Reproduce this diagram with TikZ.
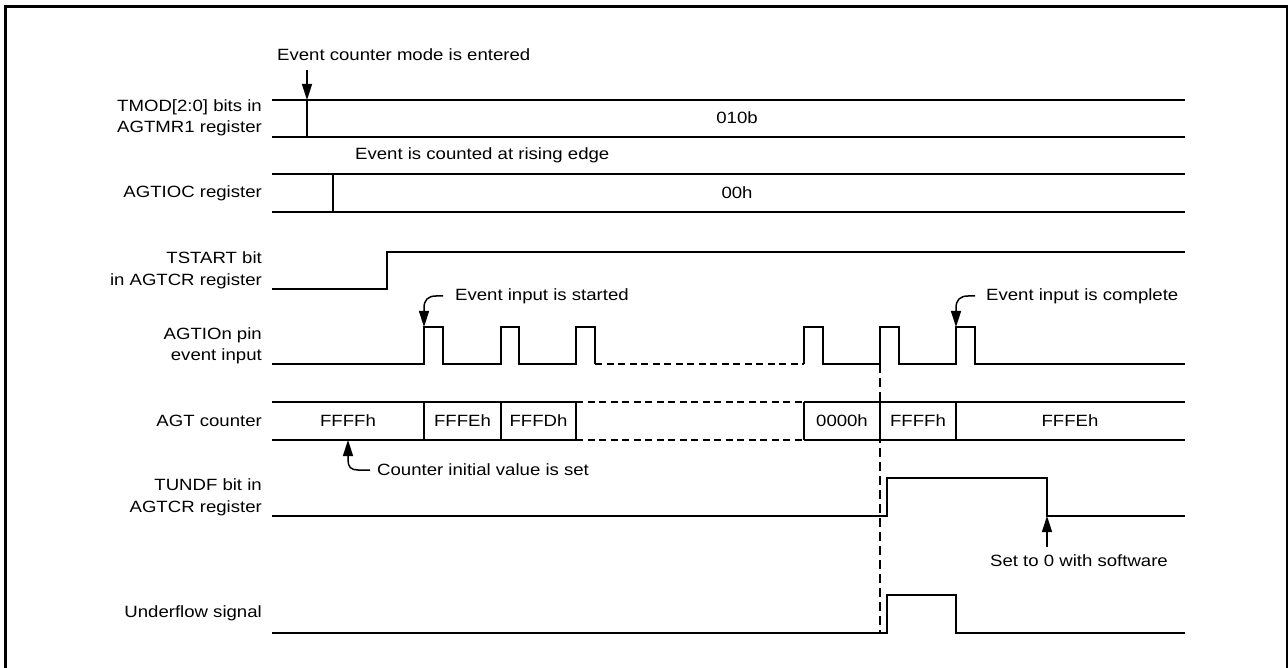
\documentclass[tikz,border=0pt]{standalone}
\usepackage{fontspec}
\setmainfont{Liberation Sans}[FakeStretch=1.14]
\usetikzlibrary{arrows.meta}
\begin{document}
\begin{tikzpicture}[x=1pt,y=-1pt,
  wave/.style={line width=1.5pt,line join=miter},
  dwave/.style={line width=1.8pt,dash pattern=on 7pt off 4.5pt},
  guide/.style={line width=1.2pt,dash pattern=on 9pt off 5pt},
  lbl/.style={font=\fontsize{16.3}{21.5}\selectfont,align=right,anchor=east,inner sep=0pt},
  txt/.style={font=\fontsize{16.3}{21.5}\selectfont,inner sep=0pt},
  note/.style={font=\fontsize{16.3}{21.5}\selectfont,inner sep=0pt,anchor=west},
  tip/.style={line width=1.5pt,-{Triangle[length=16pt,width=10pt]}}]
\useasboundingbox (0,0) rectangle (1288,668);
\clip (0,0) rectangle (1288,668);
% frame
\draw[line width=3pt] (5.5,670) -- (5.5,6.5) -- (1287.5,6.5) -- (1287.5,670);

% signal labels
\node[lbl] (l1) at (262,118) {TMOD[2:0] bits in\\AGTMR1 register};
\node[lbl] (l2) at (262,193) {AGTIOC register};
\node[lbl] (l3) at (262,270.5) {TSTART bit\\in AGTCR register};
\node[lbl] (l4) at (262,346) {AGTIOn pin\\event input};
\node[lbl] (l5) at (262,421) {AGT counter};
\node[lbl] (l6) at (262,497.5) {TUNDF bit in\\AGTCR register};
\node[lbl] (l7) at (262,613) {Underflow signal};

% TMOD
\draw[wave] (272,100) -- (1185,100) (272,137) -- (1185,137) (307,100) -- (307,137);
\node[txt] (v010) at (737,118) {010b};
\node[note] (n1) at (277,55) {Event counter mode is entered};
\coordinate (a1s) at (307,70);
\coordinate (a1e) at (307,100);
\draw[tip] (a1s) -- (a1e);

% AGTIOC
\draw[wave] (272,174) -- (1185,174) (272,212) -- (1185,212) (333,174) -- (333,212);
\node[txt] (v00) at (737,193) {00h};
\node[note] (n2) at (355,155) {Event is counted at rising edge};

% TSTART
\draw[wave] (272,289) -- (387,289) -- (387,252) -- (1185,252);

% AGTIOn pulses
\draw[wave] (272,364) -- (424,364) -- (424,327) -- (443,327) -- (443,364)
  -- (501,364) -- (501,327) -- (519,327) -- (519,364)
  -- (576,364) -- (576,327) -- (595,327) -- (595,364);
\draw[dwave] (595,364) -- (804,364);
\draw[wave] (804,364) -- (804,327) -- (823,327) -- (823,364)
  -- (880,364) -- (880,327) -- (899,327) -- (899,364)
  -- (956,364) -- (956,327) -- (975,327) -- (975,364) -- (1185,364);
\node[note] (n3) at (455,296) {Event input is started};
\node[note] (n4) at (986,296) {Event input is complete};
\coordinate (h3) at (443,296);
\coordinate (t3) at (424,327);
\draw[tip] (h3) -- (436,296) .. controls (428,296) and (424,300) .. (424,308) -- (t3);
\coordinate (h4) at (975,296);
\coordinate (t4) at (956,327);
\draw[tip] (h4) -- (968,296) .. controls (960,296) and (956,300) .. (956,308) -- (t4);

% guide line
\draw[guide] (880,364) -- (880,633);

% AGT counter
\draw[wave] (272,402) -- (576,402) (272,440) -- (576,440)
  (804,402) -- (1185,402) (804,440) -- (1185,440);
\draw[dwave] (576,402) -- (804,402) (576,440) -- (804,440);
\foreach \xx in {424,501,576,804,880,956} \draw[wave] (\xx,402) -- (\xx,440);
\node[txt] (c1) at (348,421) {FFFFh};
\node[txt] (c2) at (462.5,421) {FFFEh};
\node[txt] (c3) at (538.5,421) {FFFDh};
\node[txt] (c4) at (842,421) {0000h};
\node[txt] (c5) at (918,421) {FFFFh};
\node[txt] (c6) at (1070,421) {FFFEh};
\node[note] (n5) at (377,470) {Counter initial value is set};
\coordinate (h5) at (370,470);
\coordinate (t5) at (348,440);
\draw[tip] (h5) -- (358,470) .. controls (351,470) and (348,467) .. (348,460) -- (t5);

% TUNDF
\draw[wave] (272,516) -- (887,516) -- (887,478) -- (1047,478) -- (1047,516) -- (1185,516);
\node[txt] (n6) at (1079,561) {Set to 0 with software};
\coordinate (h6) at (1047,547);
\coordinate (t6) at (1047,516);
\draw[tip] (h6) -- (t6);

% Underflow
\draw[wave] (272,633) -- (887,633) -- (887,595) -- (956,595) -- (956,633) -- (1185,633);
\end{tikzpicture}
\end{document}
